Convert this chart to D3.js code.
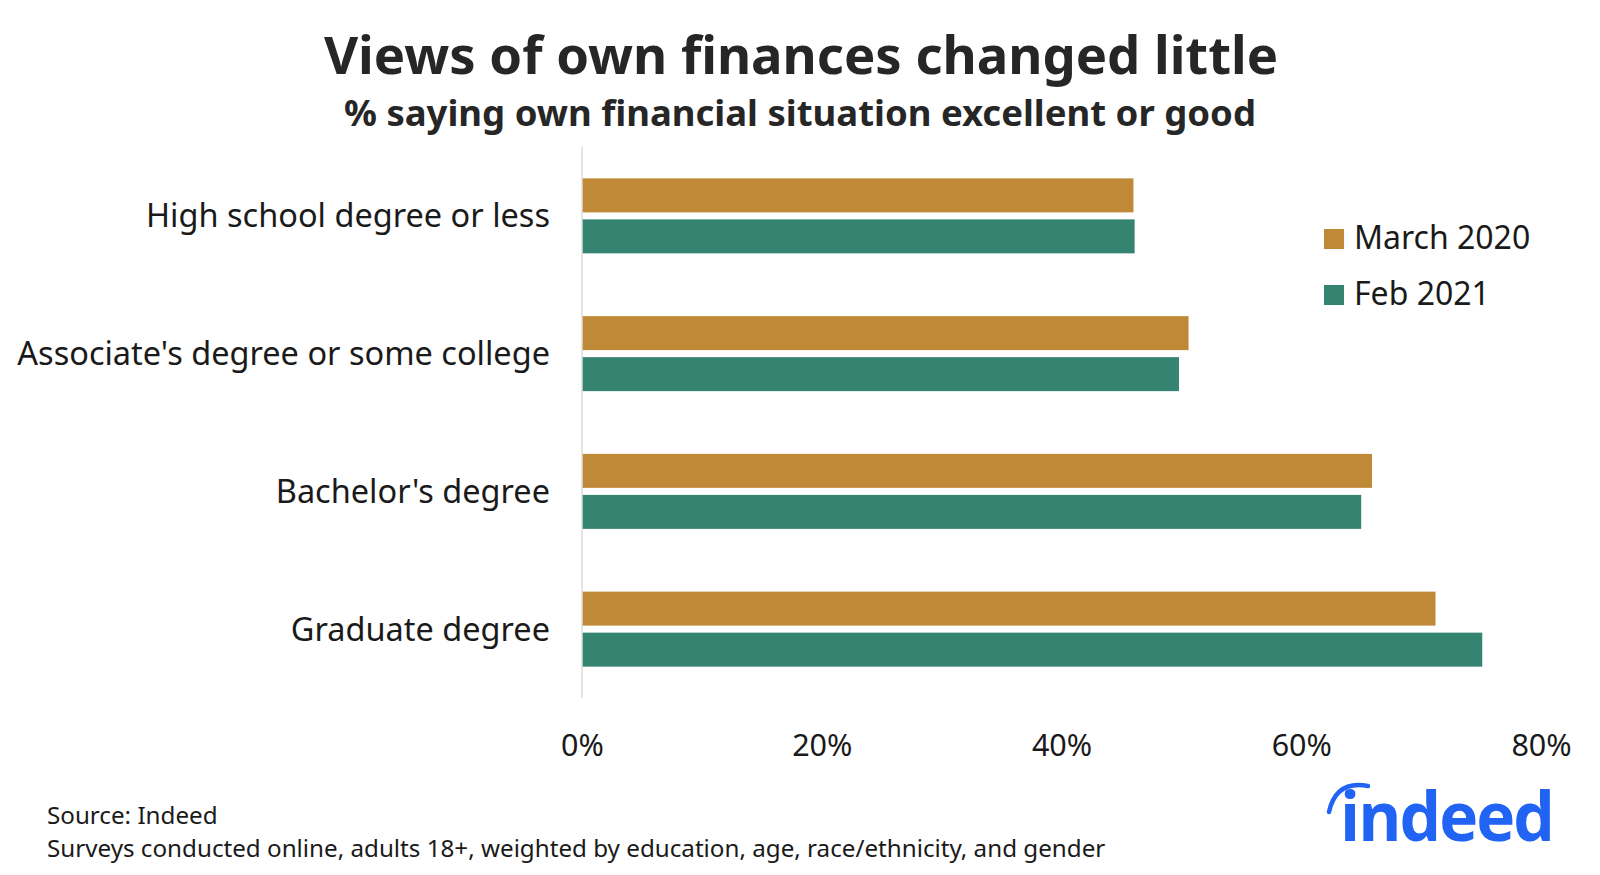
<!DOCTYPE html>
<html>
<head>
<meta charset="utf-8">
<script src="https://cdn.jsdelivr.net/npm/d3@7"></script>
<style>
  html, body { margin: 0; padding: 0; background: #fff; }
  svg { display: block; font-family: "Noto Sans", "Open Sans", sans-serif; }
</style>
</head>
<body>
<svg id="chart" width="1600" height="875"></svg>
<script>
const categories = ["High school degree or less", "Associate's degree or some college", "Bachelor's degree", "Graduate degree"];
const seriesNames = ["March 2020", "Feb 2021"];
const march2020 = [46.0, 50.6, 65.9, 71.2];
const feb2021 = [46.1, 49.8, 65.0, 75.1];
const tickValues = [0, 20, 40, 60, 80];
const colors = ["#C08938", "#358371"];

const title = "Views of own finances changed little";
const subtitle = "% saying own financial situation excellent or good";
const sourceLines = ["Source: Indeed", "Surveys conducted online, adults 18+, weighted by education, age, race/ethnicity, and gender"];

const svg = d3.select("#chart");

const x = d3.scaleLinear().domain([0, 80]).range([582, 1541]);
const y0 = d3.scaleBand().domain(categories).range([147, 698]).paddingInner(0.4555).paddingOuter(0.2277);
const y1 = d3.scaleBand().domain(seriesNames).range([0, y0.bandwidth()]).paddingInner(0.171);
const color = d3.scaleOrdinal().domain(seriesNames).range(colors);

// Titles
svg.append("text").attr("x", 801).attr("y", 74).attr("text-anchor", "middle")
  .attr("font-size", 52.6).attr("font-weight", 700).attr("fill", "#262626").text(title);
svg.append("text").attr("x", 800).attr("y", 126).attr("text-anchor", "middle")
  .attr("font-size", 36.5).attr("font-weight", 700).attr("fill", "#262626").text(subtitle);

// Bars
const rows = categories.map((c, i) => ({ cat: c, values: [march2020[i], feb2021[i]] }));
const g = svg.append("g");
const grp = g.selectAll("g.cat").data(rows).join("g")
  .attr("transform", d => `translate(0,${y0(d.cat)})`);
grp.selectAll("rect").data(d => d.values.map((v, j) => ({ s: seriesNames[j], v })))
  .join("rect")
  .attr("x", x(0))
  .attr("y", d => y1(d.s))
  .attr("width", d => x(d.v) - x(0))
  .attr("height", y1.bandwidth())
  .attr("fill", d => color(d.s));

// Vertical axis line
svg.append("line").attr("x1", x(0)).attr("x2", x(0)).attr("y1", 147).attr("y2", 698)
  .attr("stroke", "#dcdcdc").attr("stroke-width", 1.5);

// Category labels
const yAxis = svg.append("g").attr("transform", `translate(${x(0) - 32},0)`)
  .call(d3.axisLeft(y0).tickSize(0).tickPadding(0));
yAxis.select(".domain").remove();
yAxis.selectAll("text").attr("font-size", 32.5).attr("fill", "#1a1a1a")
  .attr("font-family", "'Noto Sans', sans-serif").attr("dy", "0.35em");

// X axis ticks
const xAxis = svg.append("g").attr("transform", "translate(0,727)")
  .call(d3.axisBottom(x).tickValues(tickValues).tickFormat(d => d + "%").tickSize(0).tickPadding(0));
xAxis.select(".domain").remove();
xAxis.selectAll("text").attr("font-size", 30.5).attr("fill", "#1a1a1a")
  .attr("font-family", "'Noto Sans', sans-serif").attr("dy", "0.95em");

// Legend
const legend = svg.append("g");
seriesNames.forEach((s, i) => {
  const ly = 229 + i * 56;
  legend.append("rect").attr("x", 1324).attr("y", ly).attr("width", 20).attr("height", 20).attr("fill", color(s));
  legend.append("text").attr("x", 1354).attr("y", ly + 20).attr("font-size", 32).attr("fill", "#1a1a1a").text(s);
});

// Source
sourceLines.forEach((t, i) => {
  svg.append("text").attr("x", 47).attr("y", 824 + i * 33).attr("font-size", 24.2).attr("fill", "#1a1a1a").text(t);
});

// Indeed logo
const logo = svg.append("g");
logo.append("path").attr("d", "M1329,812 Q1336,780 1368,786")
  .attr("fill", "none").attr("stroke", "#2164f3").attr("stroke-width", 4.5).attr("stroke-linecap", "round");
logo.append("text").attr("x", 1340).attr("y", 841).attr("font-size", 68).attr("font-weight", 700)
  .attr("fill", "#2164f3").attr("textLength", 213).attr("lengthAdjust", "spacingAndGlyphs")
  .attr("font-family", "'Open Sans', 'Noto Sans', sans-serif").attr("letter-spacing", -2).text("indeed");
</script>
</body>
</html>
